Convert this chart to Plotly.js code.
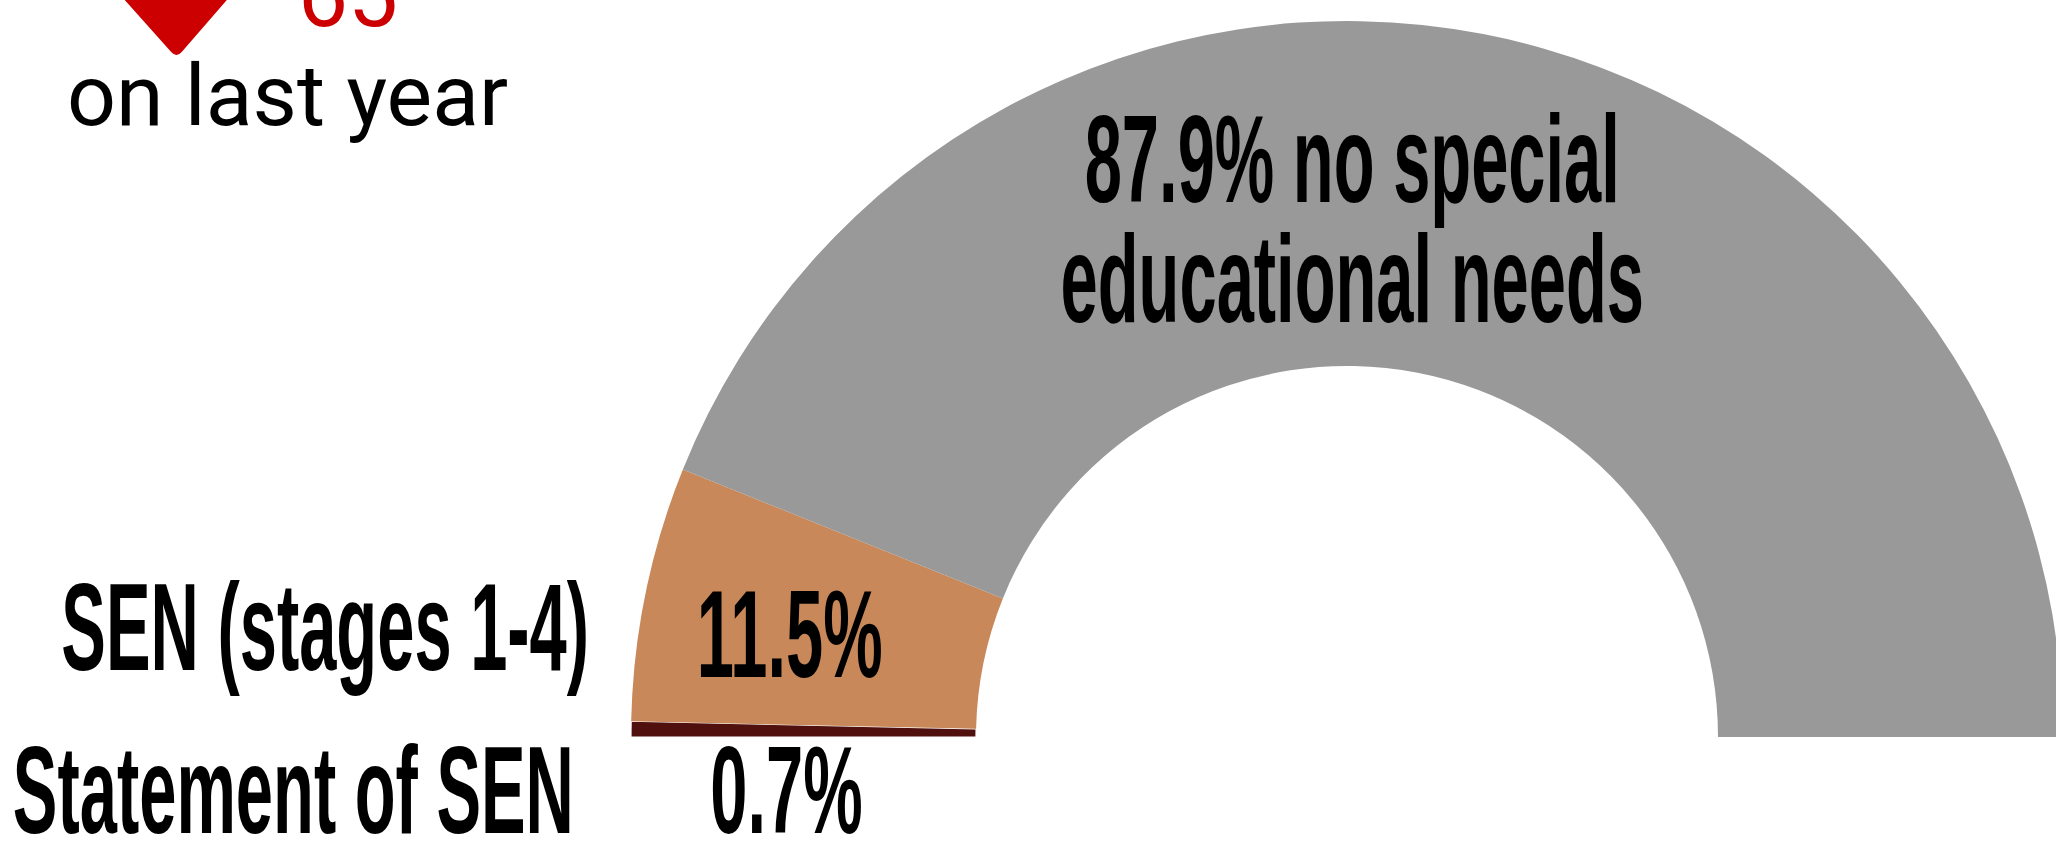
<!DOCTYPE html>
<html>
<head>
<meta charset="utf-8">
<script src="https://cdn.plot.ly/plotly-3.0.1.min.js"></script>
<style>
  html, body { margin: 0; padding: 0; overflow: hidden; background: #ffffff; width: 2056px; height: 842px; }
  #chart { position: absolute; left: 0; top: 0; }
</style>
</head>
<body>
<div id="chart"></div>
<script>
// ---- data ----
const categories = ['Statement of SEN', 'SEN (stages 1-4)', 'no special educational needs'];
const shares = [0.7, 11.5, 87.9];
const sliceColors = ['#50100E', '#C8885A', '#999999'];
const changeOnLastYear = 65;
const changeCaption = 'on last year';

// ---- geometry (pixels of the drawing) ----
const W = 2120, H = 1460;            // plot is larger than the window; the lower half of the ring falls outside
const CX = 1347, CY = 737, R = 716, R_IN = 371;
const px = x => x / W;
const py = y => 1 - y / H;

const hiddenHalf = shares.reduce((a, b) => a + b, 0);

const trace = {
  type: 'pie',
  values: shares.concat([hiddenHalf]),
  labels: categories.concat(['']),
  marker: {
    colors: sliceColors.concat(['rgba(0,0,0,0)']),
    line: { color: '#ffffff', width: [1.2, 0, 0, 0] }
  },
  sort: false,
  direction: 'clockwise',
  rotation: -90,
  hole: R_IN / R,
  textinfo: 'none',
  hoverinfo: 'skip',
  showlegend: false,
  domain: { x: [px(CX - R), px(CX + R)], y: [py(CY + R), py(CY - R)] }
};

const BIG = { family: 'Liberation Sans, Arial, Helvetica, sans-serif', size: 125, color: '#000000', weight: 'bold' };
const LINE_GAP_EM = 0.96;   // tight line spacing of the two-line label
const pct = v => v.toFixed(1) + '%';
const words = categories[2].split(' ');
const annotations = [];
const condensed = [];

function addBig(text, cx, baseline) {
  condensed.push(annotations.length);
  annotations.push({
    xref: 'paper', yref: 'paper', x: px(cx), y: py(baseline - 0.3465 * BIG.size),
    xanchor: 'center', yanchor: 'middle', showarrow: false, text: text, font: BIG
  });
}
// two-line label inside the grey slice (top-anchored at the first line)
const twoLineIndex = annotations.length;
condensed.push(twoLineIndex);
annotations.push({
  xref: 'paper', yref: 'paper', x: px(1352), y: py(202 - 0.905 * BIG.size - 2),
  xanchor: 'center', yanchor: 'top', showarrow: false, align: 'center',
  text: pct(shares[2]) + ' ' + words.slice(0, 2).join(' ') + '<br>' + words.slice(2).join(' '),
  font: BIG
});
addBig(pct(shares[1]), 790, 677);
addBig(categories[1], 325, 670);
addBig(categories[0], 293, 833);
addBig(pct(shares[0]), 786, 833);

annotations.push({
  xref: 'paper', yref: 'paper', x: px(287), y: py(125 - 0.342 * 86),
  xanchor: 'center', yanchor: 'middle', showarrow: false, text: changeCaption,
  font: { family: 'Roboto, sans-serif', size: 86, color: '#000000' }
});
annotations.push({
  xref: 'paper', yref: 'paper', x: px(348), y: py(26 - 0.342 * 89),
  xanchor: 'center', yanchor: 'middle', showarrow: false, text: String(changeOnLastYear),
  font: { family: 'Roboto, sans-serif', size: 89, color: '#CC0000' }
});

// down-pointing triangle with rounded tip
function pt(x, y) { return px(x).toFixed(5) + ',' + py(y).toFixed(5); }
const triPath = 'M' + pt(89, -40) + ' L' + pt(171.2, 52) + ' Q' + pt(176.5, 58) + ' ' + pt(181.7, 51.9) +
                ' L' + pt(261.6, -40) + ' Z';

const layout = {
  width: W, height: H,
  margin: { l: 0, r: 0, t: 0, b: 0 },
  paper_bgcolor: '#ffffff',
  plot_bgcolor: '#ffffff',
  showlegend: false,
  annotations: annotations,
  shapes: [{ type: 'path', xref: 'paper', yref: 'paper', path: triPath, fillcolor: '#CC0000', line: { width: 0 } }]
};

Plotly.newPlot('chart', [trace], layout, { staticPlot: true, displayModeBar: false, responsive: false }).then(gd => {
  const SX = 0.535;
  gd.querySelectorAll('g.annotation').forEach(g => {
    const idx = +g.getAttribute('data-index');
    if (condensed.indexOf(idx) < 0) return;
    const t = g.querySelector('text.annotation-text');
    if (!t) return;
    if (idx === twoLineIndex) {
      t.querySelectorAll('tspan.line').forEach((ts, i) => { if (i > 0) ts.setAttribute('dy', LINE_GAP_EM + 'em'); });
    }
    const bb = t.getBBox();
    const cx = bb.x + bb.width / 2;
    const prev = t.getAttribute('transform') || '';
    t.setAttribute('transform', prev + ' translate(' + cx + ',0) scale(' + SX + ',1) translate(' + (-cx) + ',0)');
  });
});
</script>
</body>
</html>
